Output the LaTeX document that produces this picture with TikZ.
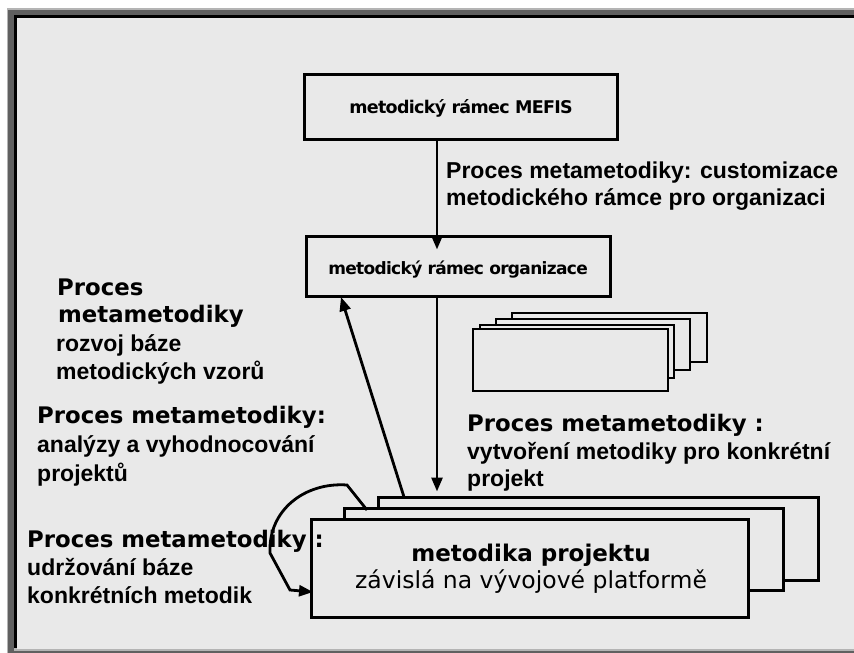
\documentclass[tikz,border=0pt]{standalone}
\usepackage{fontspec}
\setmainfont{Liberation Sans}
\newfontfamily\dv{DejaVu Sans}
\newfontfamily\dvt[LetterSpace=-4]{DejaVu Sans}
\usetikzlibrary{arrows.meta,calc}
\definecolor{bg}{HTML}{E9E9E9}
\definecolor{frlight}{HTML}{B4B4B4}
\definecolor{frdark}{HTML}{606060}
\tikzset{
  box/.style={draw=black, line width=3pt, fill=bg, inner sep=0pt},
  sbox/.style={draw=black, line width=2.6pt, fill=bg, inner sep=0pt},
  arr/.style={line width=2.8pt, -{Triangle[length=14pt,width=11pt]}},
  hd/.style={anchor=base west, inner sep=0pt, font=\dv\bfseries\fontsize{22.8}{26}\selectfont},
  lb/.style={anchor=base west, inner sep=0pt, font=\bfseries\fontsize{23}{27}\selectfont},
  ttl/.style={anchor=base, inner sep=0pt, font=\dvt\bfseries\fontsize{17.5}{20}\selectfont},
}
\begin{document}
\begin{tikzpicture}[x=1pt,y=-1pt]
\useasboundingbox (0,0) rectangle (854,653);
% frame
\fill[white] (0,0) rectangle (854,653);
\fill[frlight] (7,8) rectangle (854,653);
\fill[frdark] (8,10) rectangle (854,653);
\fill[black] (14,15) rectangle (854,650);
\fill[frlight] (14,648) rectangle (854,650.5);
\fill[bg] (17,17.5) rectangle (854,648.5);
% top boxes
\node[box, minimum width=313pt, minimum height=65pt] (mefis) at (460.5,106.5) {};
\node[ttl] (t1) at (461,113) {metodický rámec MEFIS};
\node[box, minimum width=304pt, minimum height=60pt] (org) at (458,266) {};
\node[ttl, font=\dvt\bfseries\fontsize{17}{20}\selectfont] (t2) at (458,274) {metodický rámec organizace};
% small stack
\node[sbox, minimum width=195pt, minimum height=49pt] (s1) at (609.5,337.5) {};
\node[sbox, minimum width=194pt, minimum height=51pt] (s2) at (593,344.5) {};
\node[sbox, minimum width=194pt, minimum height=53pt] (s3) at (577,351.5) {};
\node[sbox, minimum width=195pt, minimum height=62pt] (s4) at (570.5,360) {};
% big stack
\node[box, minimum width=440pt, minimum height=83pt] (p1) at (598,538.5) {};
\node[box, minimum width=439pt, minimum height=82pt] (p2) at (563.5,549) {};
\node[box, minimum width=437pt, minimum height=98pt] (p3) at (529.5,568) {};
\node[anchor=base, inner sep=0pt, font=\dv\bfseries\fontsize{23}{27}\selectfont] (pt1) at (531,561) {metodika projektu};
\node[anchor=base, inner sep=0pt, font=\dv\fontsize{23.5}{27}\selectfont] (pt2) at (531,588) {závislá na vývojové platformě};
% arrows
\coordinate (ax) at (437,0);
\draw[arr] (ax |- mefis.south) -- ($(ax |- org.north)+(0,15)$);
\draw[arr] (ax |- org.south) -- ($(ax |- p1.north)+(0,-4)$);
\coordinate (u1) at (404,497);
\coordinate (u2) at (341,297);
\draw[arr] (u1) -- (u2);
\coordinate (c0) at (367,510);
\coordinate (c1) at (347,485);
\coordinate (c2) at (270,553);
\coordinate (c3) at (290,590);
\coordinate (c4) at (313,592);
\draw[arr] (c0) -- (c1) .. controls (305,482) and (268,510) .. (c2) -- (c3) -- (c4);
% labels
\node[lb] (l1a) at (446,178) {Proces metametodiky: customizace};
\node[lb] (l1b) at (446,205) {metodického rámce pro organizaci};
\node[hd] (l2a) at (57,295) {Proces};
\node[hd] (l2b) at (58,322) {metametodiky};
\node[lb] (l2c) at (56,351) {rozvoj báze};
\node[lb] (l2d) at (56,379) {metodických vzorů};
\node[hd] (l3a) at (37,423) {Proces metametodiky:};
\node[lb] (l3b) at (37,452) {analýzy a vyhodnocování};
\node[lb] (l3c) at (37,481) {projektů};
\node[hd] (l4a) at (467,431) {Proces metametodiky :};
\node[lb] (l4b) at (467,459) {vytvoření metodiky pro konkrétní};
\node[lb] (l4c) at (467,486) {projekt};
\node[hd] (l5a) at (27,547) {Proces metametodiky :};
\node[lb] (l5b) at (27,575) {udržování báze};
\node[lb] (l5c) at (27,603) {konkrétních metodik};
\end{tikzpicture}
\end{document}
